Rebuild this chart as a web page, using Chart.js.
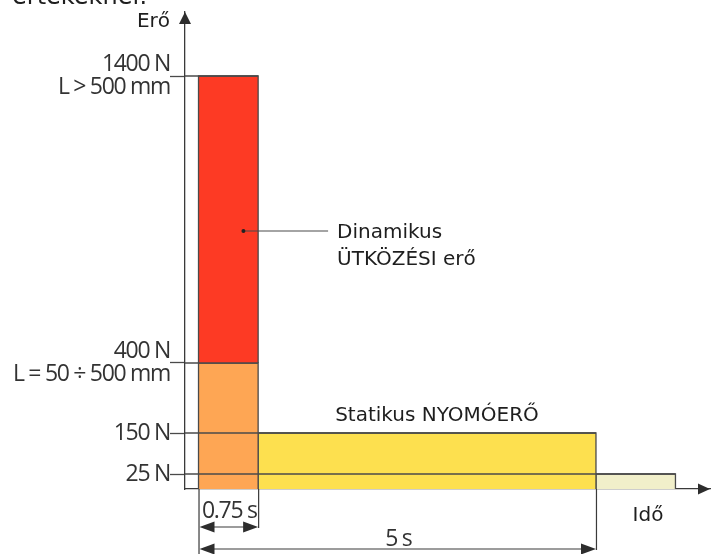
<!DOCTYPE html>
<html>
<head>
<meta charset="utf-8">
<script src="https://cdn.jsdelivr.net/npm/chart.js@4/dist/chart.umd.min.js"></script>
<style>
  html, body { margin: 0; padding: 0; background: #ffffff; }
  #c { display: block; }
</style>
</head>
<body>
<canvas id="c" width="711" height="554"></canvas>
<script>
// ---------------- DATA ----------------
const barNames  = ['Dinamikus ÜTKÖZÉSI erő (L > 500 mm)', 'L = 50 ÷ 500 mm', 'Statikus NYOMÓERŐ', 'Maradék erő'];
const barStart  = [0, 0, 0.75, 5];        // s
const barEnd    = [0.75, 0.75, 5, 6];     // s
const barLow    = [400, 0, 0, 0];         // N
const barHigh   = [1400, 400, 150, 25];   // N

const forceTicks      = [25, 150, 400, 1400];
const forceTickLabels = [['25 N'], ['150 N'], ['400 N', 'L = 50 ÷ 500 mm'], ['1400 N', 'L > 500 mm']];

const timeMarks      = [0.75, 5];
const timeMarkLabels = ['0.75 s', '5 s'];

const yAxisTitle = 'Erő';
const xAxisTitle = 'Idő';
const headerText = 'értékeknél:';
const dynamicNote = ['Dinamikus', 'ÜTKÖZÉSI erő'];
const staticNote  = 'Statikus NYOMÓERŐ';
const noteAnchor  = { t: 0.565, f: 860, tEnd: 1.63 };   // leader line in data units
const staticNoteT = 3;

// ---------------- STYLE / LAYOUT ----------------
const barColors = ['#fd3a24', '#fea654', '#fde04f', '#f1efca'];
const EDGE = '#4a4a4a';
const INK = '#1e1e1e';
const LABEL_INK = '#333333';
const X_MIN = -0.17, X_MAX = 6.447;
// piecewise stretch of the schematic force axis: [value, fraction of axis height]
const yAxisStretch = [[0, 0], [25, 0.0314], [150, 0.1174], [400, 0.2642], [1400, 0.8658]];

function forceToFraction(v) {
  const s = yAxisStretch;
  let i = 0;
  while (i < s.length - 2 && v > s[i + 1][0]) i++;
  const [v0, f0] = s[i], [v1, f1] = s[i + 1];
  return f0 + (v - v0) / (v1 - v0) * (f1 - f0);
}
function fractionToForce(f) {
  const s = yAxisStretch;
  let i = 0;
  while (i < s.length - 2 && f > s[i + 1][1]) i++;
  const [v0, f0] = s[i], [v1, f1] = s[i + 1];
  return v0 + (f - f0) / (f1 - f0) * (v1 - v0);
}

class PiecewiseScale extends Chart.LinearScale {
  getPixelForValue(value) {
    return this.getPixelForDecimal(forceToFraction(value));
  }
  getValueForPixel(pixel) {
    return fractionToForce(this.getDecimalForPixel(pixel));
  }
}
PiecewiseScale.id = 'piecewise';
PiecewiseScale.defaults = {};
Chart.register(PiecewiseScale);

// ---------------- DATASETS ----------------
const barSets = barStart.map((t0, i) => ({
  label: barNames[i],
  data: [
    { x: t0, y: barLow[i] },
    { x: t0, y: barHigh[i] },
    { x: barEnd[i], y: barHigh[i] },
    { x: barEnd[i], y: barLow[i] }
  ],
  showLine: true,
  fill: 'shape',
  backgroundColor: barColors[i],
  borderColor: EDGE,
  borderWidth: 1.3,
  pointRadius: 0,
  tension: 0,
  order: 2
}));

const refSets = forceTicks.map(f => {
  const i = barHigh.indexOf(f);
  return {
    label: 'ref ' + f,
    data: [{ x: X_MIN, y: f }, { x: barEnd[i], y: f }],
    showLine: true,
    fill: false,
    borderColor: EDGE,
    borderWidth: 1.3,
    pointRadius: 0,
    order: 1
  };
});

const leaderSet = {
  label: 'leader',
  data: [{ x: noteAnchor.t, y: noteAnchor.f }, { x: noteAnchor.tEnd, y: noteAnchor.f }],
  showLine: true,
  fill: false,
  borderColor: EDGE,
  borderWidth: 1.1,
  pointRadius: [2, 0],
  pointBackgroundColor: '#222',
  pointBorderWidth: 0,
  order: 0
};

// ---------------- PLUGINS ----------------
function tri(ctx, x1, y1, x2, y2, x3, y3) {
  ctx.beginPath(); ctx.moveTo(x1, y1); ctx.lineTo(x2, y2); ctx.lineTo(x3, y3); ctx.closePath(); ctx.fill();
}

const spacingPlugin = {
  id: 'spacing',
  beforeDraw(chart) { chart.ctx.letterSpacing = '-1.3px'; },
  beforeDatasetsDraw(chart) { chart.ctx.letterSpacing = '0px'; }
};

const decorPlugin = {
  id: 'decor',
  afterDraw(chart) {
    const { ctx, chartArea: ca, scales: { x, y } } = chart;
    const axX = ca.left, axY = ca.bottom;
    ctx.save();
    ctx.fillStyle = '#2d2d2d';
    // axis arrowheads
    tri(ctx, axX, ca.top, axX - 6, ca.top + 12, axX + 6, ca.top + 12);
    tri(ctx, ca.right - 1, axY, ca.right - 13, axY - 5.5, ca.right - 13, axY + 5.5);

    // dimension lines
    ctx.strokeStyle = '#3a3a3a';
    ctx.lineWidth = 1.2;
    const x0 = x.getPixelForValue(0);
    const rows = [axY + 38, axY + 60];
    ctx.beginPath();
    ctx.moveTo(x0 + 0.5, axY); ctx.lineTo(x0 + 0.5, 554);
    timeMarks.forEach((t, k) => {
      const xt = x.getPixelForValue(t);
      ctx.moveTo(xt + 0.5, axY); ctx.lineTo(xt + 0.5, rows[k] + 1);
      ctx.moveTo(x0 + 10, rows[k]); ctx.lineTo(xt - 10, rows[k]);
    });
    ctx.stroke();
    timeMarks.forEach((t, k) => {
      const xt = x.getPixelForValue(t);
      const r = rows[k];
      tri(ctx, x0 + 1, r, x0 + 16, r - 5.5, x0 + 16, r + 5.5);
      tri(ctx, xt, r, xt - 15, r - 5.5, xt - 15, r + 5.5);
    });

    // Open Sans labels of the time marks
    ctx.fillStyle = LABEL_INK;
    ctx.font = '23px "Open Sans"';
    ctx.letterSpacing = '-1.3px';
    ctx.textAlign = 'center';
    ctx.textBaseline = 'alphabetic';
    timeMarks.forEach((t, k) => {
      const xt = x.getPixelForValue(t);
      ctx.fillText(timeMarkLabels[k], (x0 + xt) / 2 + 1, rows[k] - 9 + (k ? 6 : 0));
    });

    // DejaVu texts
    ctx.letterSpacing = '0px';
    ctx.fillStyle = INK;
    ctx.font = '20px "DejaVu Sans"';
    ctx.textAlign = 'right';
    ctx.fillText(yAxisTitle, axX - 15, 27);
    ctx.textAlign = 'center';
    ctx.fillText(xAxisTitle, ca.right - 63, axY + 32);
    ctx.fillText(staticNote, x.getPixelForValue(staticNoteT), y.getPixelForValue(150) - 12);
    ctx.textAlign = 'left';
    const lx = x.getPixelForValue(noteAnchor.tEnd) + 9;
    const ly = y.getPixelForValue(noteAnchor.f);
    ctx.fillText(dynamicNote[0], lx, ly + 7);
    ctx.fillText(dynamicNote[1], lx, ly + 34);
    ctx.font = '24px "DejaVu Sans"';
    ctx.fillText(headerText, 12, 4);
    ctx.restore();
  }
};

// ---------------- CHART ----------------
new Chart(document.getElementById('c'), {
  type: 'scatter',
  data: { datasets: [leaderSet, ...refSets, ...barSets] },
  options: {
    responsive: false,
    devicePixelRatio: 1,
    animation: false,
    events: [],
    layout: { autoPadding: false, padding: { left: 0, right: 0, top: 12, bottom: 65 } },
    plugins: { legend: { display: false }, tooltip: { enabled: false } },
    scales: {
      x: {
        type: 'linear',
        min: X_MIN,
        max: X_MAX,
        ticks: { display: false },
        grid: { display: false },
        border: { display: true, color: '#3a3a3a', width: 1.3 },
        afterFit: s => { s.height = 0; s.paddingLeft = 0; s.paddingRight = 0; }
      },
      y: {
        type: 'piecewise',
        position: 'left',
        min: 0,
        max: 1620,
        afterBuildTicks: s => { s.ticks = forceTicks.map(v => ({ value: v })); },
        afterFit: s => { s.width = 185; s.paddingTop = 0; s.paddingBottom = 0; },
        ticks: {
          autoSkip: false,
          padding: 0,
          color: LABEL_INK,
          font: { family: 'Open Sans', size: 23, lineHeight: 1.0 },
          callback: v => forceTickLabels[forceTicks.indexOf(v)]
        },
        grid: {
          display: true,
          drawOnChartArea: false,
          drawTicks: true,
          tickLength: 15,
          tickColor: EDGE,
          tickWidth: 1.3
        },
        border: { display: true, color: '#3a3a3a', width: 1.3 }
      }
    }
  },
  plugins: [spacingPlugin, decorPlugin]
});
</script>
</body>
</html>
